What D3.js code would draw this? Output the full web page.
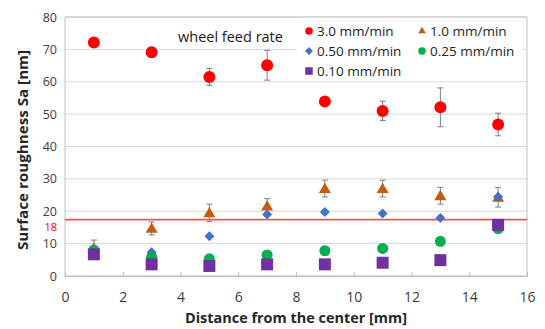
<!DOCTYPE html>
<html>
<head>
<meta charset="utf-8">
<script src="https://cdn.jsdelivr.net/npm/d3@7"></script>
<style>
  body { margin: 0; background: #fff; }
  text { font-family: "Open Sans", sans-serif; }
</style>
</head>
<body>
<div id="container"></div>
<script>
/* CONSTANTS AND GLOBALS */
const width = 545,
  height = 329,
  margin = {top: 17, bottom: 53, left: 65, right: 18};

// DATA
const distance = [1, 3, 5, 7, 9, 11, 13, 15];
const rate30 = [72.1, 69.1, 61.5, 65.1, 53.9, 51.0, 52.1, 46.8];
const err30  = [0.8, 1.5, 2.6, 4.6, 1.0, 3.0, 6.0, 3.5];
const rate10 = [8.6, 14.7, 19.5, 21.6, 27.0, 27.0, 24.8, 24.3];
const err10  = [2.5, 2.0, 2.7, 2.3, 2.6, 2.6, 2.6, 3.0];
const rate050 = [7.5, 7.3, 12.3, 19.0, 19.8, 19.3, 17.9, 24.5];
const rate025 = [8.0, 5.8, 5.3, 6.5, 7.8, 8.5, 10.7, 14.6];
const rate010 = [6.7, 3.6, 3.1, 3.6, 3.6, 4.1, 4.9, 15.8];
const xTicks = [0, 2, 4, 6, 8, 10, 12, 14, 16];
const yTicks = [0, 10, 20, 30, 40, 50, 60, 70, 80];
const refValue = 17.4, refLabel = "18";

const tickFont = "Liberation Sans, Arial, sans-serif";

const series = [
  {name: "3.0 mm/min", values: rate30, err: err30, color: "#ff0000", shape: "circle", size: 12},
  {name: "1.0 mm/min", values: rate10, err: err10, color: "#c55a11", shape: "triangle", size: 12},
  {name: "0.50 mm/min", values: rate050, err: null, color: "#4472c4", shape: "diamond", size: 10},
  {name: "0.25 mm/min", values: rate025, err: null, color: "#00b050", shape: "circle", size: 11},
  {name: "0.10 mm/min", values: rate010, err: null, color: "#7030a0", shape: "square", size: 12}
];

const svg = d3.select("#container").append("svg")
  .attr("width", width)
  .attr("height", height);

// SCALES
const xScale = d3.scaleLinear().domain([0, 16]).range([margin.left, width - margin.right]);
const yScale = d3.scaleLinear().domain([0, 80]).range([height - margin.bottom, margin.top]);

// GRIDLINES
svg.append("g")
  .selectAll("line")
  .data(yTicks.slice(1))
  .join("line")
  .attr("x1", margin.left).attr("x2", width - margin.right)
  .attr("y1", d => yScale(d)).attr("y2", d => yScale(d))
  .attr("stroke", "#d9d9d9").attr("stroke-width", 1);

// legend background covers gridlines
const legendX = xScale(8.03), legendY = yScale(79.9);
svg.append("rect")
  .attr("x", legendX).attr("y", legendY)
  .attr("width", xScale(15.85) - legendX).attr("height", yScale(60.2) - legendY)
  .attr("fill", "#fff");

// plot border
svg.append("rect")
  .attr("x", margin.left).attr("y", margin.top)
  .attr("width", width - margin.right - margin.left)
  .attr("height", height - margin.bottom - margin.top)
  .attr("fill", "none").attr("stroke", "#bfbfbf");

// AXES
const xAxis = d3.axisBottom(xScale).tickValues(xTicks).tickSize(4).tickSizeOuter(0);
const yAxis = d3.axisLeft(yScale).tickValues(yTicks).tickSize(0).tickPadding(8);

const xAxisGroup = svg.append("g")
  .attr("transform", `translate(0,${height - margin.bottom})`)
  .call(xAxis);
xAxisGroup.select(".domain").attr("stroke", "#bfbfbf");
xAxisGroup.selectAll(".tick line").attr("stroke", "#bfbfbf").attr("y2", 0).attr("y1", -4);
xAxisGroup.selectAll(".tick text")
  .attr("dy", "0").attr("y", 26)
  .attr("font-size", 14).attr("fill", "#404040")
  .attr("font-family", tickFont);

const yAxisGroup = svg.append("g")
  .attr("transform", `translate(${margin.left},0)`)
  .call(yAxis);
yAxisGroup.select(".domain").remove();
yAxisGroup.selectAll(".tick text")
  .attr("font-size", 12.5).attr("fill", "#404040")
  .attr("font-family", tickFont);

// REFERENCE LINE
svg.append("line")
  .attr("x1", margin.left).attr("x2", width - margin.right)
  .attr("y1", yScale(refValue)).attr("y2", yScale(refValue))
  .attr("stroke", "#ff5050").attr("stroke-width", 1.8);
svg.append("text")
  .attr("x", margin.left - 8).attr("y", yScale(refValue) + 8)
  .attr("dy", "0.32em")
  .attr("text-anchor", "end")
  .attr("font-size", 11).attr("fill", "#ff0000")
  .attr("font-family", tickFont)
  .text(refLabel);

// AXIS TITLES
svg.append("text")
  .attr("x", 296).attr("y", 323)
  .attr("text-anchor", "middle")
  .attr("font-size", 14).attr("font-weight", "bold").attr("fill", "#262626")
  .attr("textLength", 222).attr("lengthAdjust", "spacingAndGlyphs")
  .text("Distance from the center [mm]");
svg.append("text")
  .attr("transform", "translate(28,150) rotate(-90)")
  .attr("text-anchor", "middle")
  .attr("font-size", 14).attr("font-weight", "bold").attr("fill", "#262626")
  .attr("textLength", 200).attr("lengthAdjust", "spacingAndGlyphs")
  .text("Surface roughness  Sa [nm]");

// SYMBOL HELPERS
const symType = {circle: d3.symbolCircle, triangle: d3.symbolTriangle, square: d3.symbolSquare};
function symPath(shape, size) {
  // size is approx width in px
  if (shape === "diamond") {
    const h = size / 2;
    return `M0,${-h}L${h},0L0,${h}L${-h},0Z`;
  }
  let area;
  if (shape === "circle") area = Math.PI * (size / 2) ** 2;
  else if (shape === "square") area = size * size;
  else area = size * size * Math.sqrt(3) / 4;
  return d3.symbol(symType[shape], area)();
}

// ERROR BARS
series.filter(s => s.err).forEach(s => {
  const g = svg.append("g").attr("stroke", "#7f7f7f").attr("stroke-width", 1);
  distance.forEach((d, i) => {
    const x = xScale(d), y0 = yScale(s.values[i] - s.err[i]), y1 = yScale(s.values[i] + s.err[i]);
    g.append("line").attr("x1", x).attr("x2", x).attr("y1", y0).attr("y2", y1);
    g.append("line").attr("x1", x - 3).attr("x2", x + 3).attr("y1", y0).attr("y2", y0);
    g.append("line").attr("x1", x - 3).attr("x2", x + 3).attr("y1", y1).attr("y2", y1);
  });
});

// MARKERS
series.forEach(s => {
  svg.append("g")
    .selectAll("path")
    .data(distance.map((d, i) => ({x: d, y: s.values[i]})))
    .join("path")
    .attr("d", symPath(s.shape, s.size))
    .attr("transform", d => `translate(${xScale(d.x)},${yScale(d.y) + (s.shape === "triangle" ? 1 : 0)})`)
    .attr("fill", s.color);
});

// LEGEND
svg.append("text")
  .attr("x", 178).attr("y", 42)
  .attr("font-size", 14.5).attr("fill", "#1a1a1a")
  .attr("font-family", "Liberation Sans, Arial, sans-serif")
  .text("wheel feed rate");

const legendPos = [
  {col: 0, row: 0}, {col: 1, row: 0},
  {col: 0, row: 1}, {col: 1, row: 1},
  {col: 0, row: 2}
];
const legend = svg.append("g");
series.forEach((s, i) => {
  const p = legendPos[i];
  const mx = 309 + p.col * 113, my = 31 + p.row * 20;
  legend.append("path")
    .attr("d", symPath(s.shape, s.shape === "diamond" ? 8 : 7.5))
    .attr("transform", `translate(${mx},${my})`)
    .attr("fill", s.color);
  legend.append("text")
    .attr("x", mx + 8).attr("y", my)
    .attr("dy", "0.35em")
    .attr("font-size", 13.5).attr("fill", "#262626")
    .text(s.name);
});
</script>
</body>
</html>
